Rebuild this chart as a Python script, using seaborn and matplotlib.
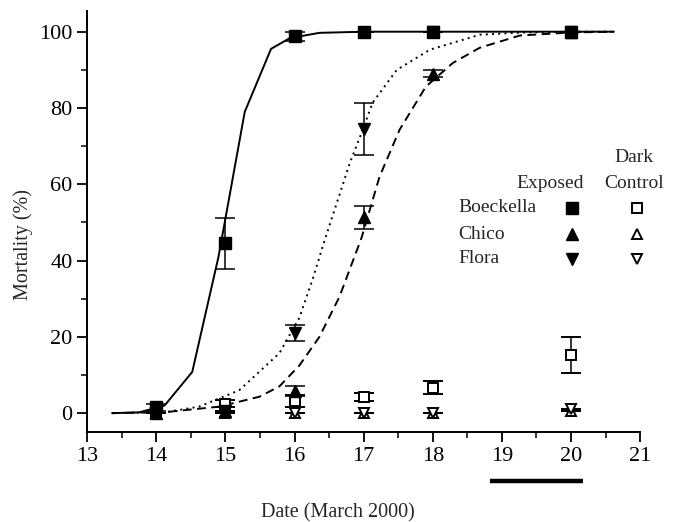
import matplotlib
matplotlib.use("Agg")
import matplotlib.pyplot as plt
import numpy as np
import pandas as pd
import seaborn as sns

# observed days (March 2000)
days = [14, 15, 16, 17, 18, 20]

# exposed treatment
boeckella_exp = [1.5, 44.5, 98.8, 100, 100, 100]
boeckella_exp_err = [1.0, 6.6, 1.2, 0, 0, 0]
chico_exp = [0, 0.5, 5.8, 51.3, 89.0, 100]
chico_exp_err = [0, 0, 1.3, 3.0, 1.0, 0]
flora_exp = [0, 0.5, 21.0, 74.5, 100, 100]
flora_exp_err = [0, 0, 2.1, 6.8, 0, 0]

# dark control
boeckella_dark = [0, 2.5, 3.2, 4.3, 6.7, 15.2]
boeckella_dark_err = [0, 1.0, 1.5, 1.1, 1.8, 4.7]
chico_dark = [0, 0, 0, 0, 0, 0.5]
chico_dark_err = [0, 0, 0, 0, 0, 0]
flora_dark = [0, 0, 0, 0, 0, 1.0]
flora_dark_err = [0, 0, 0, 0, 0, 0]

# fitted curves
boeckella_fit_x = [13.36, 13.75, 14.12, 14.52, 14.9, 15.28, 15.66, 15.93, 16.36, 17.0, 18.0, 19.0, 20.0, 20.62]
boeckella_fit_y = [0, 0.2, 2, 10.8, 41, 79, 95.5, 98.3, 99.7, 100, 100, 100, 100, 100]
flora_fit_x = [13.36, 14.15, 14.62, 15.2, 15.78, 16.07, 16.26, 16.43, 16.8, 16.97, 17.13, 17.48, 17.96, 18.68, 19.3, 20.0, 20.62]
flora_fit_y = [0, 0.3, 1.7, 6, 15.7, 25, 35, 45, 65.6, 73.5, 81.4, 90, 95.3, 99.2, 99.8, 100, 100]
chico_fit_x = [13.36, 14.15, 14.91, 15.49, 15.78, 16.07, 16.36, 16.65, 16.97, 17.23, 17.52, 17.9, 18.29, 18.68, 19.26, 20.0, 20.62]
chico_fit_y = [0, 0.3, 1.7, 4.3, 7, 12.5, 20, 30.5, 46, 62, 74.3, 85.6, 91.8, 95.8, 99, 99.8, 100]

# dark period bar under the axis
dark_period = [18.83, 20.18]

species = ["Boeckella", "Chico", "Flora"]
markers = ["s", "^", "v"]

sns.set_style("ticks")
plt.rcParams['font.family'] = ['Liberation Serif', 'DejaVu Serif']

fig = plt.figure(figsize=(6.81, 5.22), dpi=100)
ax = fig.add_axes([0.128, 0.172, 0.812, 0.806])

lw = 1.4
sns.lineplot(x=boeckella_fit_x, y=boeckella_fit_y, ax=ax, color="black", lw=lw, sort=False)
sns.lineplot(x=flora_fit_x, y=flora_fit_y, ax=ax, color="black", lw=lw, sort=False, linestyle=(0, (1, 2.2)))
sns.lineplot(x=chico_fit_x, y=chico_fit_y, ax=ax, color="black", lw=lw, sort=False, linestyle=(0, (4.5, 2.8)))

exp_vals = [(boeckella_exp, boeckella_exp_err), (chico_exp, chico_exp_err), (flora_exp, flora_exp_err)]
dark_vals = [(boeckella_dark, boeckella_dark_err), (chico_dark, chico_dark_err), (flora_dark, flora_dark_err)]

for (vals, errs), m in zip(dark_vals, markers):
    ax.errorbar(days, vals, yerr=errs, fmt=m, ms=7.5, mfc="white", mec="black", mew=1.4,
                ecolor="black", elinewidth=1.1, capsize=7.5, capthick=1.1, zorder=4)
for (vals, errs), m in zip(exp_vals, markers):
    ax.errorbar(days, vals, yerr=errs, fmt=m, ms=8, mfc="black", mec="black",
                ecolor="black", elinewidth=1.1, capsize=7.5, capthick=1.1, zorder=5)

ax.set_xlim(13, 21)
ax.set_ylim(-5, 105.3)
ax.set_xticks(range(13, 22))
ax.set_xticks(np.arange(13.5, 21, 1), minor=True)
ax.set_yticks(range(0, 101, 20))
ax.set_yticks(range(10, 100, 20), minor=True)
ax.tick_params(which="major", length=7, width=1.3, labelsize=16, direction="out", colors="black")
ax.tick_params(which="minor", length=4, width=1.3, direction="out")
for s in ["left", "bottom"]:
    ax.spines[s].set_linewidth(1.4)
    ax.spines[s].set_color("black")
sns.despine(ax=ax)

ax.set_xlabel("Date (March 2000)", fontsize=14.5)
ax.set_ylabel("Mortality (%)", fontsize=14.5)
ax.xaxis.set_label_coords(0.454, -0.168)
ax.yaxis.set_label_coords(-0.098, 0.445)

# dark period bar
ax.plot(dark_period, [-0.117, -0.117], color="black", lw=3.2,
        transform=ax.get_xaxis_transform(), clip_on=False, solid_capstyle="butt")

# legend table
row_y = [0.533, 0.471, 0.412]
ax.text(0.837, 0.592, "Exposed", transform=ax.transAxes, ha="center", va="center", fontsize=14)
ax.text(0.989, 0.654, "Dark", transform=ax.transAxes, ha="center", va="center", fontsize=14)
ax.text(0.989, 0.592, "Control", transform=ax.transAxes, ha="center", va="center", fontsize=14)
for name, m, yy in zip(species, markers, row_y):
    ax.text(0.671, yy, name, transform=ax.transAxes, ha="left", va="center", fontsize=14)
    ax.plot([0.877], [yy], marker=m, ms=8, color="black", transform=ax.transAxes, clip_on=False)
    ax.plot([0.995], [yy], marker=m, ms=7.5, mfc="white", mec="black", mew=1.4,
            transform=ax.transAxes, clip_on=False)

fig.savefig("out.png", dpi=100)
